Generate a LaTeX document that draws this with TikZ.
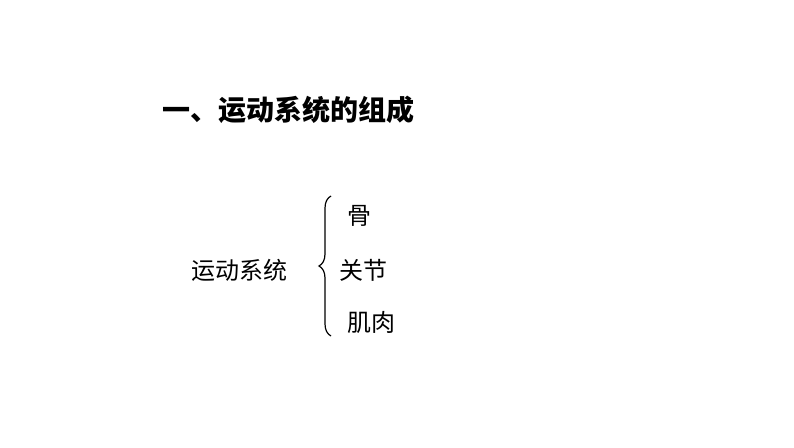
\documentclass[tikz,border=0pt]{standalone}
\usepackage{fontspec}
\newfontfamily\cjk{Noto Sans CJK SC}
\usetikzlibrary{decorations.pathreplacing}
\begin{document}
\begin{tikzpicture}[x=1pt,y=1pt,
  txt/.style={font=\cjk\fontsize{24}{28}\selectfont, inner sep=0pt, anchor=west}]
\useasboundingbox (0,0) rectangle (794,-447);
\node[txt, font=\cjk\bfseries\fontsize{28}{32}\selectfont] (title) at (162,-110) {一、运动系统的组成};
\node[txt] (sys) at (191,-270) {运动系统};
\coordinate (bb) at (331,-336);
\coordinate (bt) at (331,-196);
\draw[line width=1.2pt, decorate, decoration={brace, amplitude=12pt}] (bb) -- (bt);
\node[txt] (gu) at (347,-216) {骨};
\node[txt] (gj) at (339,-270) {关节};
\node[txt] (jr) at (347,-322) {肌肉};
\end{tikzpicture}
\end{document}
